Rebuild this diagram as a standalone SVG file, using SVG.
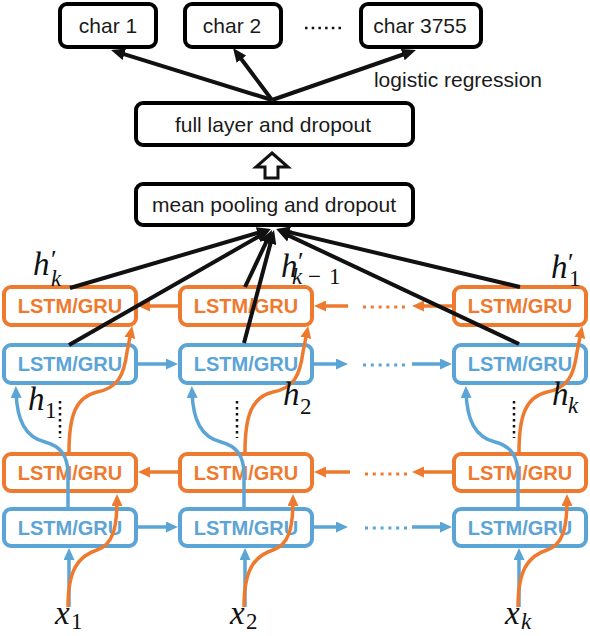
<svg xmlns="http://www.w3.org/2000/svg" width="590" height="636" viewBox="0 0 590 636">
<style>
.bk{fill:#fff;stroke:#000;stroke-width:4}
.ob{fill:#fff;stroke:#EE7A2F;stroke-width:4}
.bb{fill:#fff;stroke:#5BA4D6;stroke-width:4}
.t{font-family:"Liberation Sans",Arial,sans-serif;font-size:21px;fill:#1a1a1a;text-anchor:middle}
.lt{font-family:"Liberation Sans",Arial,sans-serif;font-size:20px;font-weight:bold;text-anchor:middle}
.ot{fill:#EE7A2F}
.btx{fill:#5BA4D6}
.m{font-family:"Liberation Serif","Times New Roman",serif;font-style:italic;font-size:33px;fill:#111}
.s{font-style:italic;font-size:23px}
.sn{font-style:normal;font-size:23px}
.pr{font-style:normal;font-size:26px}
.kl{fill:none;stroke:#111;stroke-width:4;marker-end:url(#ak)}
.ol{fill:none;stroke:#EE7A2F;stroke-width:3.5;marker-end:url(#ao)}
.bl{fill:none;stroke:#5BA4D6;stroke-width:3.5;marker-end:url(#ab)}
.od{fill:none;stroke:#EE7A2F;stroke-width:3;stroke-dasharray:3 4.8}
.bd{fill:none;stroke:#5BA4D6;stroke-width:3;stroke-dasharray:3 4.8}
.kd{fill:none;stroke:#111;stroke-width:2.5;stroke-dasharray:2.5 3.5}
</style>
<defs>
<marker id="ak" markerUnits="userSpaceOnUse" viewBox="0 0 14 12" markerWidth="14" markerHeight="12" refX="8" refY="6" orient="auto"><path d="M0,0 L14,6 L0,12 Z" fill="#111"/></marker>
<marker id="ao" markerUnits="userSpaceOnUse" viewBox="0 0 12 11" markerWidth="12" markerHeight="11" refX="6" refY="5.5" orient="auto"><path d="M0,0 L12,5.5 L0,11 Z" fill="#EE7A2F"/></marker>
<marker id="ab" markerUnits="userSpaceOnUse" viewBox="0 0 12 11" markerWidth="12" markerHeight="11" refX="6" refY="5.5" orient="auto"><path d="M0,0 L12,5.5 L0,11 Z" fill="#5BA4D6"/></marker>
</defs>

<g id="char1"><rect class="bk" x="60" y="4" width="96" height="43" rx="7"/><text class="t" x="108" y="33">char 1</text></g>
<g id="char2"><rect class="bk" x="185" y="4" width="96" height="43" rx="7"/><text class="t" x="232" y="33">char 2</text></g>
<g id="char3755"><rect class="bk" x="361" y="4" width="120" height="43" rx="7"/><text class="t" x="420" y="33">char 3755</text></g>
<line x1="305" y1="28" x2="343" y2="28" style="stroke:#111;stroke-width:2.5;stroke-dasharray:2.5 4.2"/>
<text class="t" x="458" y="87">logistic regression</text>
<g id="full"><rect class="bk" x="136" y="103" width="277" height="42" rx="7"/><text class="t" x="273" y="132">full layer and dropout</text></g>
<g id="mean"><rect class="bk" x="136" y="184" width="277" height="41" rx="7"/><text class="t" x="274" y="212">mean pooling and dropout</text></g>

<g id="o1"><rect class="ob" x="4" y="287" width="132" height="38" rx="7"/><text class="lt ot" x="70" y="313">LSTM/GRU</text></g>
<g id="o2"><rect class="ob" x="180" y="287" width="132" height="38" rx="7"/><text class="lt ot" x="246" y="313">LSTM/GRU</text></g>
<g id="o3"><rect class="ob" x="454" y="287" width="132" height="38" rx="7"/><text class="lt ot" x="520" y="313">LSTM/GRU</text></g>
<g id="b1"><rect class="bb" x="4" y="345" width="132" height="38" rx="7"/><text class="lt btx" x="70" y="371">LSTM/GRU</text></g>
<g id="b2"><rect class="bb" x="180" y="345" width="132" height="38" rx="7"/><text class="lt btx" x="246" y="371">LSTM/GRU</text></g>
<g id="b3"><rect class="bb" x="454" y="345" width="132" height="38" rx="7"/><text class="lt btx" x="520" y="371">LSTM/GRU</text></g>
<g id="o4"><rect class="ob" x="4" y="454" width="132" height="37" rx="7"/><text class="lt ot" x="70" y="480">LSTM/GRU</text></g>
<g id="o5"><rect class="ob" x="180" y="454" width="132" height="37" rx="7"/><text class="lt ot" x="246" y="480">LSTM/GRU</text></g>
<g id="o6"><rect class="ob" x="454" y="454" width="132" height="37" rx="7"/><text class="lt ot" x="520" y="480">LSTM/GRU</text></g>
<g id="b4"><rect class="bb" x="4" y="509" width="132" height="37" rx="7"/><text class="lt btx" x="70" y="535">LSTM/GRU</text></g>
<g id="b5"><rect class="bb" x="180" y="509" width="132" height="37" rx="7"/><text class="lt btx" x="246" y="535">LSTM/GRU</text></g>
<g id="b6"><rect class="bb" x="454" y="509" width="132" height="37" rx="7"/><text class="lt btx" x="520" y="535">LSTM/GRU</text></g>

<g id="connectors">
<line class="kl" x1="272" y1="100" x2="116.7" y2="51.8"/>
<line class="kl" x1="272" y1="100" x2="236.6" y2="52.8"/>
<line class="kl" x1="272" y1="100" x2="410.3" y2="52"/>
<polygon points="272,153 288,167 278,167 278,178 265,178 265,167 256,167" style="fill:#fff;stroke:#111;stroke-width:3;stroke-linejoin:miter"/>

<line class="ol" x1="178" y1="306" x2="144" y2="306"/>
<line class="ol" x1="348" y1="306" x2="320" y2="306"/>
<line class="od" x1="363" y1="307" x2="405" y2="307"/>
<line class="ol" x1="452" y1="306" x2="418" y2="306"/>
<line class="bl" x1="138" y1="364" x2="172" y2="364"/>
<line class="bl" x1="314" y1="364" x2="342" y2="364"/>
<line class="bd" x1="363" y1="365" x2="405" y2="365"/>
<line class="bl" x1="412" y1="364" x2="446" y2="364"/>
<line class="ol" x1="178" y1="472" x2="144" y2="472"/>
<line class="ol" x1="350" y1="472" x2="320" y2="472"/>
<line class="od" x1="365" y1="474" x2="407" y2="474"/>
<line class="ol" x1="453" y1="472" x2="418" y2="472"/>
<line class="bl" x1="138" y1="527" x2="172" y2="527"/>
<line class="bl" x1="314" y1="527" x2="342" y2="527"/>
<line class="bd" x1="365" y1="528" x2="407" y2="528"/>
<line class="bl" x1="412" y1="527" x2="446" y2="527"/>

<line class="kd" x1="60" y1="401" x2="60" y2="438"/>
<line class="kd" x1="237" y1="401" x2="237" y2="438"/>
<line class="kd" x1="514" y1="401" x2="514" y2="438"/>

<g id="col1">
<line class="bl" x1="69" y1="607" x2="69" y2="554"/>
<path class="ol" d="M68,607 C68,570 78,556 97,550 C112,545 117,530 117,500"/>
<path class="bl" d="M68,507 L68,475 C68,455 60,446 45,442 C25,437 17,420 16,392"/>
<path class="ol" d="M69,452 C69,415 76,397 97,392 C118,388 124,375 127,352 L131,332"/>
</g>
<g id="col2" transform="translate(176,0)">
<line class="bl" x1="69" y1="607" x2="69" y2="554"/>
<path class="ol" d="M68,607 C68,570 78,556 97,550 C112,545 117,530 117,500"/>
<path class="bl" d="M68,507 L68,475 C68,455 60,446 45,442 C25,437 17,420 16,392"/>
<path class="ol" d="M69,452 C69,415 76,397 97,392 C118,388 124,375 127,352 L131,332"/>
</g>
<g id="col3" transform="translate(450,0)">
<line class="bl" x1="69" y1="607" x2="69" y2="554"/>
<path class="ol" d="M68,607 C68,570 78,556 97,550 C112,545 117,530 117,500"/>
<path class="bl" d="M68,507 L68,475 C68,455 60,446 45,442 C25,437 17,420 16,392"/>
<path class="ol" d="M69,452 C69,415 76,397 97,392 C118,388 124,375 127,352 L131,332"/>
</g>

<line class="kl" x1="70" y1="288" x2="265.2" y2="230.7"/>
<line class="kl" x1="69" y1="345" x2="264.8" y2="233"/>
<line class="kl" x1="245" y1="287" x2="269.4" y2="235.4"/>
<line class="kl" x1="244" y1="343" x2="272.5" y2="235.8"/>
<line class="kl" x1="520" y1="287" x2="281.8" y2="230.4"/>
<line class="kl" x1="519" y1="344" x2="282.4" y2="232.6"/>
</g>

<g id="labels">
<text class="m" x="33" y="275">h<tspan class="pr" x="51" y="268">′</tspan><tspan class="s" x="51" y="286">k</tspan></text>
<text class="m" x="281" y="277">h<tspan class="pr" x="298" y="270">′</tspan><tspan class="s" x="292" y="284">k</tspan><tspan class="sn" x="308" y="284">−</tspan><tspan class="sn" x="329" y="284">1</tspan></text>
<text class="m" x="551" y="278">h<tspan class="pr" x="568" y="271">′</tspan><tspan class="sn" x="569" y="286">1</tspan></text>
<text class="m" x="28" y="410">h<tspan class="sn" x="45" y="418">1</tspan></text>
<text class="m" x="283" y="405">h<tspan class="sn" x="300" y="414">2</tspan></text>
<text class="m" x="552" y="405">h<tspan class="s" x="568" y="413">k</tspan></text>
<text class="m" x="55" y="624">x<tspan class="sn" x="71" y="629">1</tspan></text>
<text class="m" x="230" y="624">x<tspan class="sn" x="246" y="629">2</tspan></text>
<text class="m" x="505" y="624">x<tspan class="s" x="521" y="629">k</tspan></text>
</g>
</svg>
